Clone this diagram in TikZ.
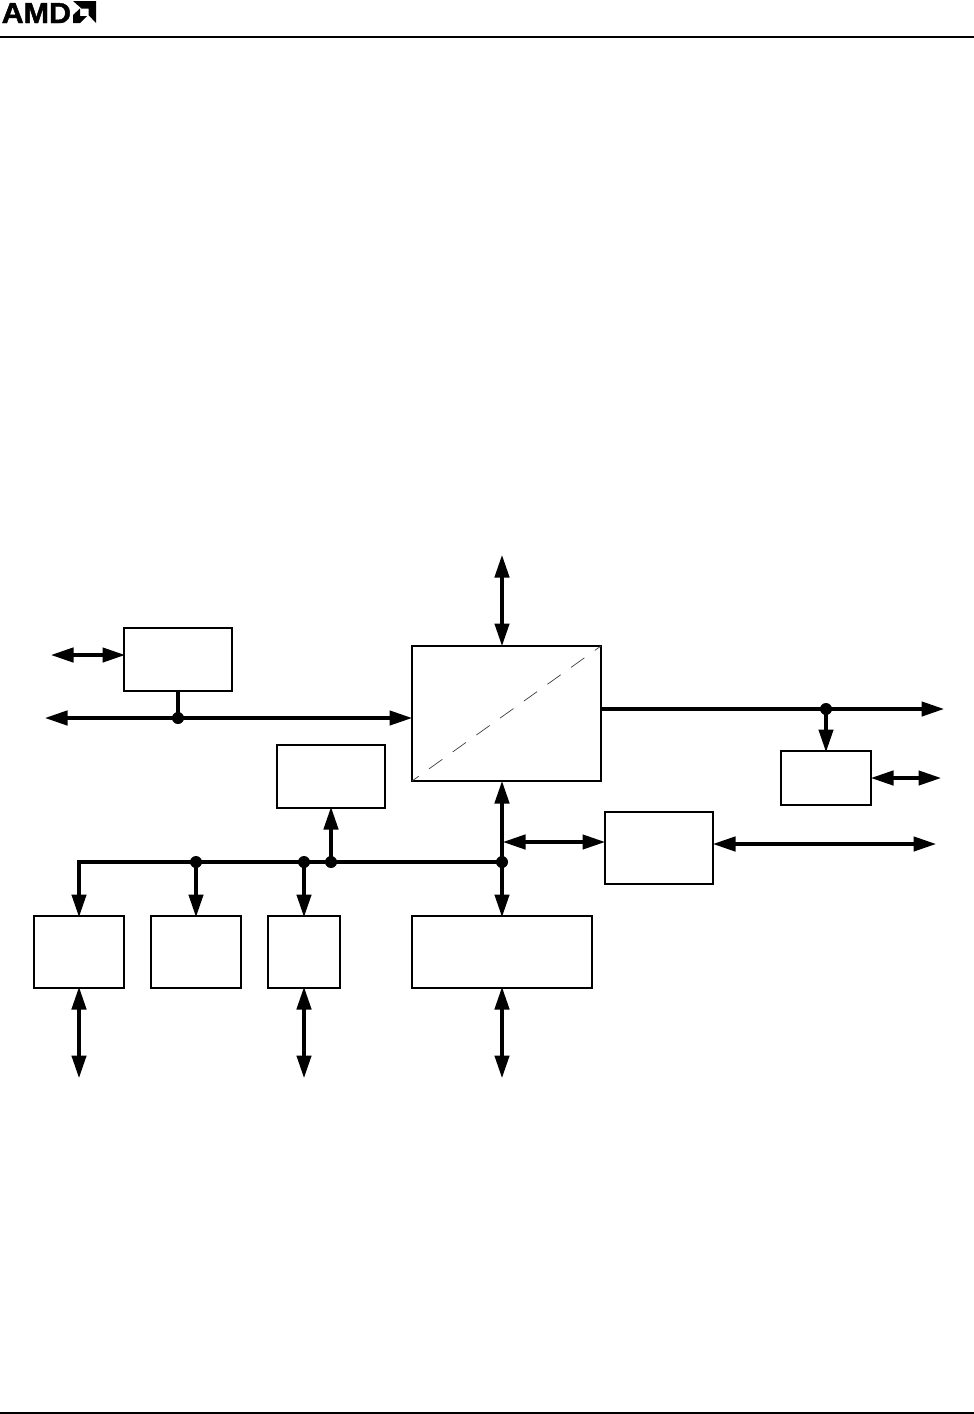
\documentclass[tikz,border=0pt]{standalone}
\usepackage{fontspec}
\setmainfont{Liberation Sans}
\newfontfamily\logofont[FakeBold=1.5]{Liberation Sans Bold}
\usetikzlibrary{arrows.meta}
\tikzset{
  x=1pt,y=-1pt,
  blockbox/.style={draw=black,line width=2.2pt,fill=white,inner sep=0pt,outer sep=0pt,anchor=north west},
  bus/.style={draw=black,line width=4.3pt},
  oneway/.style={bus,-{Triangle[length=23pt,width=14pt]},shorten >=-1.5pt},
  twoway/.style={bus,{Triangle[length=23pt,width=14pt]}-{Triangle[length=23pt,width=14pt]},shorten >=-1.5pt,shorten <=-1.5pt},
  junction/.style={circle,fill=black,inner sep=0pt,minimum size=12pt},
  rule/.style={draw=black,line width=1.2pt},
}
\newcommand{\blk}[5]{\node[blockbox,minimum width=#4pt-#2pt,minimum height=#5pt-#3pt] (#1) at (#2,#3) {};}
\begin{document}
\begin{tikzpicture}
\useasboundingbox (0,0) rectangle (974,1414);
\fill[white] (0,0) rectangle (974,1414);
% header and footer
\coordinate (hl) at (0,37); \coordinate (hr) at (974,37);
\draw[rule] (hl) -- (hr);
\coordinate (fl) at (0,1413); \coordinate (fr) at (974,1413);
\draw[rule] (fl) -- (fr);
\node[anchor=base west,inner sep=0pt,font=\logofont\fontsize{29}{29}\selectfont] (logo) at (1.5,23) {\scalebox{1.05}[1]{AMD}};
\fill[black] (73,1) -- (96,1) -- (96,23) -- (88.5,15) -- (88.5,8.5) -- (81.5,8.5) -- cycle;
\fill[black] (73,15) -- (80,8.5) -- (80,16) -- (87,16) -- (80,23) -- (73,23) -- cycle;
% blocks
\blk{a}{124}{628}{232}{691}
\blk{b}{412}{646}{601}{781}
\blk{c}{277}{745}{385}{808}
\blk{d}{781}{751}{871}{805}
\blk{e}{605}{812}{713}{884}
\blk{f}{34}{916}{124}{988}
\blk{g}{151}{916}{241}{988}
\blk{h}{268}{916}{340}{988}
\blk{i}{412}{916}{592}{988}
\draw[line width=.7pt,draw=black!75,dash pattern=on 16.4pt off 12.7pt,dash phase=8.2pt] (b.south west) -- (b.north east);
% free ends
\coordinate (t1) at (502,556);
\coordinate (t1b) at (502,645);
\coordinate (l1) at (52,655);
\coordinate (l2) at (46,718);
\coordinate (j1) at (178,718);
\coordinate (bl) at (411,718);
\coordinate (r1) at (602,709);
\coordinate (j2) at (826,709);
\coordinate (r2) at (943,709);
\coordinate (r3) at (940,778);
\coordinate (r4) at (935,844);
\coordinate (bbus) at (502,862);
\coordinate (j3) at (331,862);
\coordinate (j4) at (304,862);
\coordinate (j5) at (196,862);
\coordinate (k) at (79,862);
% connectors
\draw[twoway] (t1) -- (t1b);
\draw[twoway] (l1) -- (a.west |- l1);
\draw[twoway] (l2) -- (bl);
\draw[bus] (a.south -| j1) -- (j1);
\node[junction] (n1) at (j1) {};
\draw[bus] (r1) -- (j2);
\draw[oneway] (j2) -- (r2);
\node[junction] (n2) at (j2) {};
\draw[oneway] (j2) -- (d.north -| j2);
\draw[twoway] (872,778) -- (r3);
\draw[twoway] (714,844) -- (r4);
\draw[twoway] (504,842) -- (604,842);
\draw[oneway] (bbus) -- (502,782);
\draw[oneway] (bbus) -- (i.north -| bbus);
\draw[oneway] (bbus) -- (k) -- (f.north -| k);
\draw[oneway] (j5) -- (g.north -| j5);
\draw[oneway] (j4) -- (h.north -| j4);
\draw[oneway] (j3) -- (c.south -| j3);
\node[junction] at (bbus) {};
\node[junction] at (j3) {};
\node[junction] at (j4) {};
\node[junction] at (j5) {};
\coordinate (fd) at (79,1077);
\coordinate (hd) at (304,1077);
\coordinate (id) at (502,1077);
\draw[twoway] (f.south -| fd) -- (fd);
\draw[twoway] (h.south -| hd) -- (hd);
\draw[twoway] (i.south -| id) -- (id);
\end{tikzpicture}
\end{document}
